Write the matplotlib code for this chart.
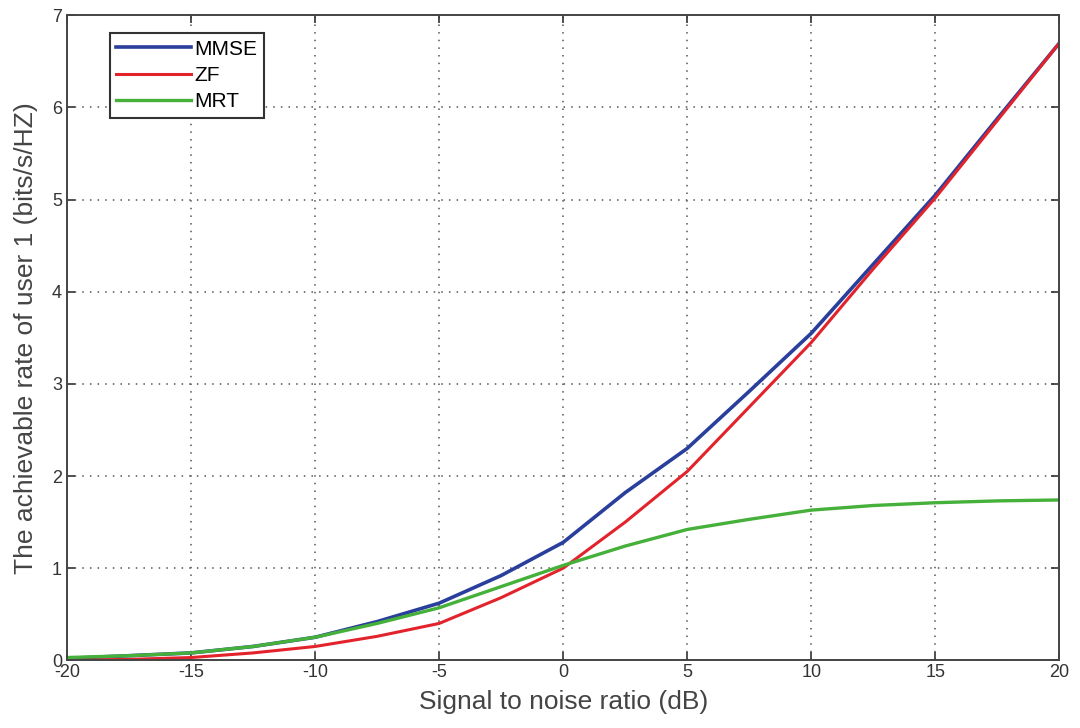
import numpy as np
import matplotlib.pyplot as plt

plt.rcParams['font.family'] = ['Liberation Sans', 'DejaVu Sans']
plt.rcParams['axes.unicode_minus'] = False

# SNR sweep (dB) and the rates of user 1 for each precoder
snr_db = [-20, -17.5, -15, -12.5, -10, -7.5, -5, -2.5, 0, 2.5, 5, 7.5, 10, 12.5, 15, 17.5, 20]
rate_mmse = [0.02, 0.05, 0.08, 0.15, 0.25, 0.42, 0.62, 0.92, 1.28, 1.82, 2.30, 2.92, 3.55, 4.30, 5.05, 5.88, 6.70]
rate_zf = [0.00, 0.01, 0.03, 0.08, 0.15, 0.26, 0.40, 0.68, 1.00, 1.50, 2.05, 2.75, 3.45, 4.25, 5.02, 5.86, 6.70]
rate_mrt = [0.03, 0.05, 0.08, 0.15, 0.25, 0.40, 0.57, 0.80, 1.03, 1.24, 1.42, 1.53, 1.63, 1.68, 1.71, 1.73, 1.74]

xticks = [-20, -15, -10, -5, 0, 5, 10, 15, 20]
yticks = [0, 1, 2, 3, 4, 5, 6, 7]

fig = plt.figure(figsize=(10.8, 7.28), dpi=100)
ax = fig.add_axes([0.062, 0.093, 0.919, 0.886])

ax.plot(snr_db, rate_mmse, color='#2a3f9c', linewidth=2.6, label='MMSE')
ax.plot(snr_db, rate_zf, color='#e3232b', linewidth=2.2, label='ZF')
ax.plot(snr_db, rate_mrt, color='#45b03a', linewidth=2.4, label='MRT')

ax.set_xlim(-20, 20)
ax.set_ylim(0, 7)
ax.set_xticks(xticks)
ax.set_yticks(yticks)
ax.tick_params(direction='in', top=True, right=True, length=6, width=1.2,
               labelsize=13, colors='#333333')
ax.tick_params(axis='x', pad=3)
ax.grid(True, linestyle=(0, (1, 4)), color='#555555', linewidth=1.1)
for s in ax.spines.values():
  s.set_color('#444444')
  s.set_linewidth(1.4)

ax.set_xlabel('Signal to noise ratio (dB)', fontsize=19, color='#444444', labelpad=6)
ax.set_ylabel('The achievable rate of user 1 (bits/s/HZ)', fontsize=19, color='#444444', labelpad=10)

leg = ax.legend(loc='upper left', bbox_to_anchor=(0.033, 0.988), fontsize=15,
                handlelength=3.6, handletextpad=0.15, labelspacing=0.35,
                fancybox=False, framealpha=1, borderpad=0.3)
leg.get_frame().set_edgecolor('#333333')
leg.get_frame().set_linewidth(1.5)

plt.savefig('out.png', dpi=100)
